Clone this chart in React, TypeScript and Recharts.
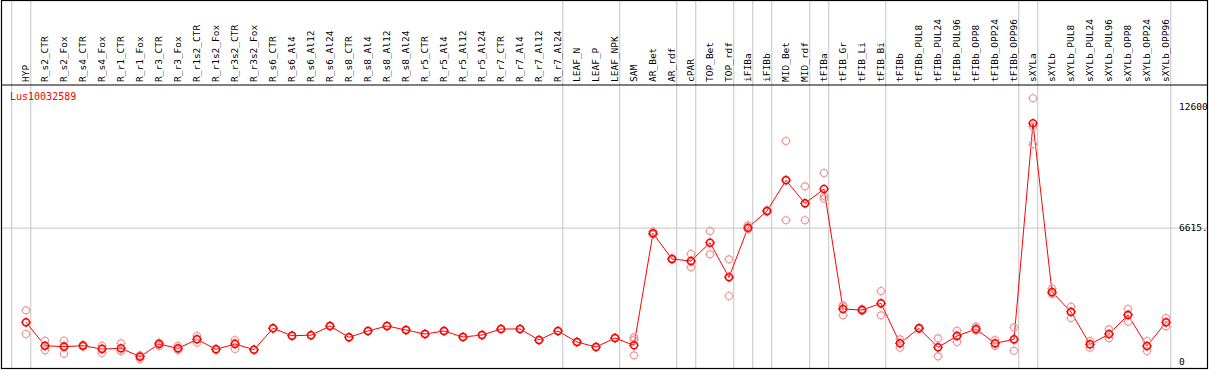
import React from 'react';
import { ComposedChart, Line, XAxis, YAxis, ReferenceLine } from 'recharts';

const geneName = 'Lus10032589';

const categories = [
  'HYP', 'R_s2_CTR', 'R_s2_Fox', 'R_s4_CTR', 'R_s4_Fox', 'R_r1_CTR', 'R_r1_Fox', 'R_r3_CTR', 'R_r3_Fox',
  'R_r1s2_CTR', 'R_r1s2_Fox', 'R_r3s2_CTR', 'R_r3s2_Fox', 'R_s6_CTR', 'R_s6_Al4', 'R_s6_Al12', 'R_s6_Al24',
  'R_s8_CTR', 'R_s8_Al4', 'R_s8_Al12', 'R_s8_Al24', 'R_r5_CTR', 'R_r5_Al4', 'R_r5_Al12', 'R_r5_Al24',
  'R_r7_CTR', 'R_r7_Al4', 'R_r7_Al12', 'R_r7_Al24', 'LEAF_N', 'LEAF_P', 'LEAF_NPK', 'SAM', 'AR_Bet', 'AR_rdf',
  'cPAR', 'TOP_Bet', 'TOP_rdf', 'iFIBa', 'iFIBb', 'MID_Bet', 'MID_rdf', 'tFIBa', 'tFIB_Gr', 'tFIB_Li', 'tFIB_Bi',
  'tFIBb', 'tFIBb_PUL8', 'tFIBb_PUL24', 'tFIBb_PUL96', 'tFIBb_OPP8', 'tFIBb_OPP24', 'tFIBb_OPP96',
  'sXYLa', 'sXYLb', 'sXYLb_PUL8', 'sXYLb_PUL24', 'sXYLb_PUL96', 'sXYLb_OPP8', 'sXYLb_OPP24', 'sXYLb_OPP96',
];

const meanValues = [
  1961, 806, 757, 806, 642, 675, 263, 889, 675,
  1120, 626, 889, 609, 1664, 1301, 1325, 1779,
  1219, 1532, 1779, 1581, 1384, 1532, 1235, 1334,
  1631, 1631, 1087, 1532, 988, 741, 1186, 825, 6357, 5089,
  4990, 5896, 4183, 6637, 7461, 8976, 7840, 8548, 2619, 2569, 2899,
  922, 1664, 724, 1285, 1631, 922, 1120,
  11794, 3459, 2471, 872, 1384, 2322, 790, 1960,
];

const rep1 = [
  2553, 1054, 1054, 850, 806, 922, 148, 950, 806,
  1285, 640, 1087, 620, 1680, 1310, 1335, 1790,
  1230, 1540, 1790, 1590, 1395, 1540, 1245, 1345,
  1640, 1640, 1095, 1540, 995, 750, 1195, 1219, 6450, 5120,
  5336, 6473, 5073, 6750, 7500, 10920, 8680, 9339, 2800, 2620, 3508,
  1120, 1700, 1169, 1548, 1746, 1080, 1713,
  13030, 3624, 2734, 1030, 1614, 2619, 1038, 2174,
];

const rep2 = [
  1383, 576, 411, 770, 444, 560, 330, 790, 610,
  950, 610, 642, 600, 1650, 1290, 1315, 1765,
  1210, 1520, 1765, 1570, 1375, 1520, 1225, 1325,
  1620, 1620, 1080, 1520, 980, 735, 1175, 1100, 6300, 5060,
  4677, 5320, 3261, 6560, 7420, 7002, 7002, 8202, 2306, 2520, 2306,
  708, 1630, 280, 988, 1560, 790, 560,
  11630, 3360, 2174, 710, 1169, 1993, 543, 1763,
];

const rep3 = [
  1950, 790, 806, 800, 676, 545, 311, 925, 610,
  1125, 628, 938, 607, 1662, 1300, 1324, 1778,
  1218, 1531, 1778, 1580, 1383, 1531, 1234, 1333,
  1630, 1630, 1086, 1531, 987, 740, 1185, 330, 6320, 5090,
  4960, 5895, 4215, 6600, 7460, 9006, 7838, 8070, 2750, 2570, 2883,
  940, 1662, 723, 1320, 1590, 900, 1088,
  10757, 3400, 2500, 880, 1370, 2350, 790, 1950,
];

const yTicks = [0, 6615.5, 12600];
const yTickLabels = ['0', '6615.', '12600'];
const gridValues = [6615.5];

// index of the last category in each group (-1 = before the first group)
const groupEnds = [-1, 0, 28, 31, 34, 35, 37, 38, 39, 41, 42, 45, 52, 53, 60];

const data = categories.map((name, i) => ({
  idx: i,
  name,
  mean: meanValues[i],
  r1: rep1[i],
  r2: rep2[i],
  r3: rep3[i],
}));

const W = 1209;
const H = 370;
const HEADER_H = 85;
const PLOT_BOTTOM = 368;
const PLOT_H = PLOT_BOTTOM - HEADER_H;
const X_DOMAIN: [number, number] = [-1.3158, 62.2105];
const Y_DOMAIN: [number, number] = [-296, 13687];
const HEADER_TOP_VALUE = Y_DOMAIN[1] + (HEADER_H * (Y_DOMAIN[1] - Y_DOMAIN[0])) / PLOT_H;

const FONT = 'DejaVu Sans Mono';
const RED = '#ff0000';
const PINK = '#ee9a9a';
const GRID = '#c4c4c4';

const makeDot = (color: string, sw: number) => (props: any) => {
  const { cx, cy, index } = props;
  if (cx == null || cy == null || isNaN(cx) || isNaN(cy)) return <g key={`e${index}`} />;
  const r = 3.5;
  const t = 1.4;
  return (
    <g key={`d${index}`}>
      <circle cx={cx} cy={cy} r={r} fill="none" stroke={color} strokeWidth={sw} />
      <line x1={cx} y1={cy - r - t} x2={cx} y2={cy - r} stroke={color} strokeWidth={1} />
      <line x1={cx} y1={cy + r} x2={cx} y2={cy + r + t} stroke={color} strokeWidth={1} />
      <line x1={cx - r - t} y1={cy} x2={cx - r} y2={cy} stroke={color} strokeWidth={1} />
      <line x1={cx + r} y1={cy} x2={cx + r + t} y2={cy} stroke={color} strokeWidth={1} />
    </g>
  );
};

const meanDot = makeDot(RED, 1.5);
const repDot = makeDot(PINK, 1.1);

const CategoryTick = (props: any) => {
  const { x, y, payload } = props;
  const label = categories[Math.round(payload.value)];
  return (
    <text
      x={x}
      y={y}
      dy="0.3em"
      transform={`rotate(-90, ${x}, ${y})`}
      textAnchor="start"
      fontFamily={FONT}
      fontSize={9.5}
      fill="#000"
    >
      {label}
    </text>
  );
};

export default function App() {
  return (
    <div style={{ position: 'absolute', left: 0, top: 0, width: W, height: H, background: '#fff' }}>
      <ComposedChart
        width={W}
        height={H}
        data={data}
        margin={{ top: 0, right: 0, bottom: H - PLOT_BOTTOM, left: 1 }}
      >
        <XAxis
          dataKey="idx"
          type="number"
          orientation="top"
          height={HEADER_H}
          domain={X_DOMAIN}
          allowDataOverflow
          ticks={categories.map((_, i) => i)}
          interval={0}
          tickLine={false}
          tickSize={0}
          tickMargin={3}
          axisLine={{ stroke: '#000', strokeWidth: 1.2 }}
          tick={<CategoryTick />}
        />
        <YAxis
          orientation="right"
          width={1}
          type="number"
          domain={Y_DOMAIN}
          allowDataOverflow
          ticks={yTicks}
          interval={0}
          tickLine={false}
          axisLine={false}
          tickSize={0}
          tickMargin={-29}
          tickFormatter={(v: number) => yTickLabels[yTicks.indexOf(v)]}
          tick={{ fontSize: 9.5, fontFamily: FONT, fill: '#000', textAnchor: 'start' }}
        />
        {gridValues.map((v) => (
          <ReferenceLine key={`h${v}`} y={v} stroke={GRID} strokeWidth={1} />
        ))}
        {groupEnds.map((g) => (
          <ReferenceLine
            key={`v${g}`}
            segment={[
              { x: g + 0.25, y: Y_DOMAIN[0] },
              { x: g + 0.25, y: HEADER_TOP_VALUE },
            ]}
            ifOverflow="visible"
            stroke={GRID}
            strokeWidth={1}
          />
        ))}
        <Line dataKey="r1" stroke="none" dot={repDot} activeDot={false} isAnimationActive={false} />
        <Line dataKey="r2" stroke="none" dot={repDot} activeDot={false} isAnimationActive={false} />
        <Line dataKey="r3" stroke="none" dot={repDot} activeDot={false} isAnimationActive={false} />
        <Line
          dataKey="mean"
          stroke={RED}
          strokeWidth={1}
          dot={meanDot}
          activeDot={false}
          isAnimationActive={false}
        />
      </ComposedChart>
      <svg
        width={W}
        height={H}
        style={{ position: 'absolute', left: 0, top: 0, pointerEvents: 'none' }}
      >
        <rect x={1.5} y={0.5} width={1206} height={PLOT_BOTTOM} fill="none" stroke="#000" strokeWidth={1.2} />
        <text x={10} y={100} fontFamily={FONT} fontSize={10} fill={RED}>
          {geneName}
        </text>
      </svg>
    </div>
  );
}
